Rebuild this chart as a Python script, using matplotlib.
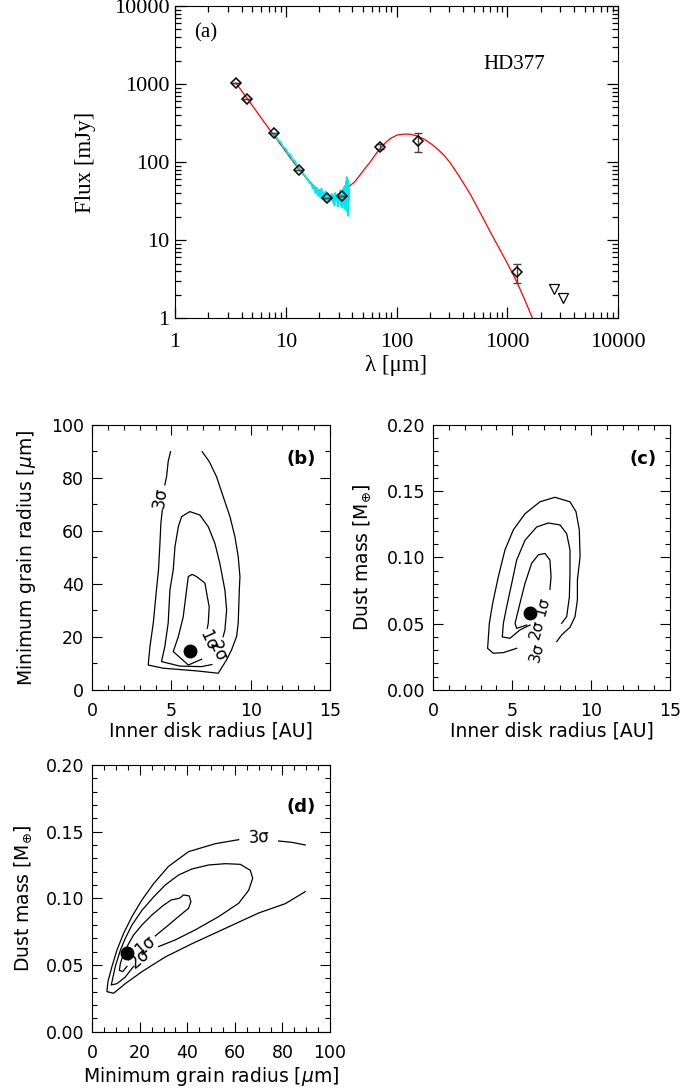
import matplotlib.pyplot as plt
from matplotlib.ticker import MultipleLocator, LogLocator, NullFormatter, FormatStrFormatter

plt.rcParams['font.family'] = ['DejaVu Sans']
plt.rcParams['mathtext.fontset'] = 'dejavusans'

## SED data (panel a)
phot_lam  = [3.55, 4.49, 7.9, 13.1, 23.7, 32.0, 71.5, 157.0, 1220.0]
phot_flux = [1020., 645., 235., 80., 35., 36.5, 158., 188., 3.9]
phot_lo   = [1020., 645., 235., 80., 35., 36.5, 147., 133., 2.78]
phot_hi   = [1020., 645., 235., 80., 35., 36.5, 170., 235., 4.93]
ulim_lam  = [2620., 3160.]
ulim_flux = [2.33, 1.82]

model_lam  = [3.54, 4.5, 6.5, 8.0, 10.0, 13.0, 16.0, 20.0, 24.0, 28.0, 32.0, 37.0,
              42.0, 46.0, 52.0, 58.2, 62.4, 66.8, 71.6, 79.5, 88.3, 101.4, 116.5,
              134., 154., 177., 203., 233., 268., 308., 354., 407., 468., 537.,
              617., 709., 815., 936., 1076., 1236., 1420., 1690., 2000.]
model_flux = [1030., 650., 313., 210., 136., 82., 58., 42., 37., 35.5, 38., 48.,
              56., 66., 83., 101., 117., 133., 150., 177., 201., 222., 228.,
              227., 215., 197., 173., 148., 123., 96., 71.6, 52.2, 37.7, 26.2,
              18.1, 12.4, 8.63, 6.0, 4.13, 2.78, 1.79, 0.99, 0.55]

irs_lam  = [7.6, 8.0, 8.5, 9.0, 9.5, 10.0, 10.5, 11.0, 11.5, 12.0, 12.5, 13.0, 13.5,
            14.0, 14.5, 15.0, 15.5, 16.0, 16.5, 17.0, 17.5, 18.0, 18.5, 19.0, 19.5,
            20.0, 20.5, 21.0, 21.5, 22.0, 22.5, 23.0, 23.5, 24.0, 24.5, 25.0, 25.5,
            26.0, 26.5, 27.0, 27.5, 28.0, 28.5, 29.0, 29.5, 30.0, 30.5, 31.0, 31.5,
            32.0, 32.5, 33.0, 33.5, 34.0, 34.5, 35.0, 35.3, 35.6, 36.0, 36.3, 36.6,
            37.0, 37.3]
irs_flux = [236, 224, 192, 180, 155, 147, 128, 124, 107, 104, 92, 88, 78,
            77, 68, 67, 60, 59, 53, 54, 46, 49, 40, 47, 37,
            44, 35, 46, 34, 41, 33, 42, 32, 39, 31, 37, 33,
            39, 31, 37, 28, 40, 33, 38, 27, 39, 31, 43, 28,
            38, 26, 45, 29, 49, 25, 56, 28, 64, 23, 59, 20.5,
            46, 33]

## Contours panel b (inner radius [AU] vs min grain radius [um])
b_best = (6.15, 14.6)
b3a_x = [4.94, 4.79, 4.69, 4.58]
b3a_y = [89.9, 86.2, 80.5, 77.4]
b3b_x = [4.42, 4.33, 4.27, 4.18, 4.05, 3.85, 3.64, 3.53, 4.48, 6.58, 7.95, 8.48,
         8.79, 9.11, 9.21, 9.28, 9.32, 9.21, 9.00, 8.69, 8.26, 7.84, 7.38, 6.94]
b3b_y = [67.9, 62.9, 55.3, 45.3, 37.7, 25.2, 16.4, 9.4, 8.2, 7.2, 6.3, 11.4,
         15.1, 20.2, 25.2, 37.7, 42.8, 50.3, 57.9, 65.4, 73.0, 80.5, 86.2, 89.9]
b2_x = [7.55, 6.90, 5.53, 4.37, 4.58, 4.79, 4.90, 5.11, 5.22, 5.43, 5.64, 6.16,
        6.79, 7.32, 7.74, 8.05, 8.37, 8.48, 8.37, 8.26]
b2_y = [9.6, 8.8, 9.0, 10.7, 16.4, 25.2, 37.7, 45.3, 54.1, 61.6, 65.4, 67.3,
        66.0, 61.6, 55.3, 47.8, 37.7, 30.2, 22.6, 20.1]
b1_x = [6.90, 6.06, 5.11, 5.43, 5.74, 5.95, 6.06, 6.30, 6.58, 7.11, 7.26, 7.38, 7.32, 7.26]
b1_y = [11.6, 9.4, 14.5, 20.1, 27.6, 37.7, 42.8, 43.6, 42.8, 40.3, 35.2, 31.4, 25.2, 23.3]

## Contours panel c (inner radius [AU] vs dust mass)
c_best = (6.13, 0.0579)
c3_x = [7.82, 8.13, 8.66, 8.98, 9.13, 9.13, 9.30, 9.25, 9.04, 8.66, 7.71, 6.76, 5.81,
        5.07, 4.54, 4.12, 3.76, 3.55, 3.44, 3.80, 4.44, 5.28]
c3_y = [0.0365, 0.0415, 0.0473, 0.0553, 0.068, 0.083, 0.1006, 0.1208, 0.1346, 0.142,
        0.1454, 0.142, 0.133, 0.1208, 0.1057, 0.0855, 0.0654, 0.0503, 0.0314, 0.0277,
        0.0282, 0.0314]
c2_x = [6.13, 5.49, 4.86, 4.37, 4.44, 4.65, 4.97, 5.28, 5.81, 6.55, 7.29, 8.03, 8.45,
        8.66, 8.66, 8.62, 8.45, 8.13]
c2_y = [0.049, 0.0453, 0.039, 0.040, 0.0503, 0.0629, 0.0805, 0.098, 0.113, 0.123, 0.126,
        0.1245, 0.118, 0.1057, 0.088, 0.070, 0.0553, 0.0503]
c1_x = [5.92, 5.28, 5.18, 5.49, 5.81, 6.23, 6.66, 7.08, 7.39, 7.46, 7.39]
c1_y = [0.049, 0.0465, 0.0503, 0.0654, 0.0805, 0.0956, 0.102, 0.103, 0.098, 0.0855, 0.076]

## Contours panel d (min grain radius [um] vs dust mass)
d_best = (14.6, 0.0588)
d3a_x = [61.6, 51.8, 40.5, 32.1, 25.8, 20.9, 16.7, 13.2, 10.4, 8.27, 6.59, 6.17,
         8.98, 13.9, 20.9, 30.7, 42.0, 56.0, 70.0, 81.2, 89.6]
d3a_y = [0.144, 0.141, 0.135, 0.124, 0.111, 0.0988, 0.0863, 0.0738, 0.0613, 0.0488,
         0.0375, 0.030, 0.0288, 0.036, 0.045, 0.056, 0.066, 0.0775, 0.089, 0.096, 0.105]
d3b_x = [78.4, 84.0, 89.6]
d3b_y = [0.143, 0.142, 0.140]
d2_x = [27.9, 34.9, 43.3, 53.2, 61.6, 65.8, 67.5, 66.5, 62.3, 56.0, 48.9, 41.9, 36.3,
        30.7, 25.8, 20.9, 16.7, 13.9, 11.8, 9.7, 8.0, 10.4, 13.9, 17.4]
d2_y = [0.0638, 0.0688, 0.0763, 0.0863, 0.0963, 0.106, 0.115, 0.121, 0.1255, 0.126,
        0.125, 0.122, 0.1175, 0.110, 0.101, 0.091, 0.080, 0.070, 0.061, 0.049, 0.035,
        0.036, 0.041, 0.049]
d1_x = [26.5, 32.1, 36.6, 40.5, 41.5, 40.8, 38.4, 36.6, 33.2, 29.6, 25.1, 20.9, 17.4,
        15.3, 13.2, 11.8, 11.4, 12.8, 14.6]
d1_y = [0.0718, 0.080, 0.0868, 0.0925, 0.0975, 0.1018, 0.1025, 0.100, 0.0988, 0.0943,
        0.0875, 0.080, 0.0725, 0.066, 0.0588, 0.051, 0.046, 0.045, 0.049]

SERIF = 'Liberation Serif'

fig = plt.figure(figsize=(6.81, 10.91), dpi=100, facecolor='white')

# ---------------- panel (a): SED
ax = fig.add_axes([0.257, 0.7085, 0.6505, 0.286])
ax.set_xscale('log')
ax.set_yscale('log')
ax.plot(model_lam, model_flux, color='red', lw=0.9, zorder=2)
ax.plot(irs_lam, irs_flux, color='#00e8f0', lw=1.4, zorder=3)
yerr = [[f - lo for f, lo in zip(phot_flux, phot_lo)],
        [hi - f for f, hi in zip(phot_flux, phot_hi)]]
ax.errorbar(phot_lam, phot_flux, yerr=yerr, fmt='none', ecolor='#444444',
            elinewidth=1.0, capsize=3, capthick=1.0, zorder=4)
ax.plot(phot_lam, phot_flux, 'D', ms=5, mfc='none', mec='black', mew=1.1, zorder=5)
ax.plot(ulim_lam, ulim_flux, 'v', ms=7, mfc='none', mec='black', mew=0.9, zorder=5)
ax.set_xlim(1, 1e4)
ax.set_ylim(1, 1e4)
decades = [1, 10, 100, 1000, 10000]
ax.set_xticks(decades)
ax.set_yticks(decades)
ax.set_xticklabels([str(d) for d in decades])
ax.set_yticklabels([str(d) for d in decades])
for axis in (ax.xaxis, ax.yaxis):
    axis.set_minor_locator(LogLocator(base=10, subs=range(2, 10), numticks=20))
    axis.set_minor_formatter(NullFormatter())
ax.tick_params(which='both', direction='in', top=True, right=True, width=0.9)
ax.tick_params(which='major', length=8, labelsize=16)
ax.tick_params(axis='x', which='major', pad=11)
ax.tick_params(axis='y', which='major', pad=4)
ax.tick_params(which='minor', length=4)
plt.setp(ax.get_xticklabels() + ax.get_yticklabels(), family=SERIF)
ax.set_xlabel('λ [μm]', family=SERIF, fontsize=16.5, labelpad=2)
ax.set_ylabel('Flux [mJy]', family=SERIF, fontsize=16.5, labelpad=13)
ax.text(0.07, 0.913, '(a)', transform=ax.transAxes, family=SERIF, fontsize=15,
        ha='center', va='center')
ax.text(0.765, 0.814, 'HD377', transform=ax.transAxes, family=SERIF, fontsize=15,
        ha='center', va='center')


def style_panel(ax, xmaj, xmin, ymaj, ymin, yfmt):
    ax.xaxis.set_major_locator(MultipleLocator(xmaj))
    ax.xaxis.set_minor_locator(MultipleLocator(xmin))
    ax.yaxis.set_major_locator(MultipleLocator(ymaj))
    ax.yaxis.set_minor_locator(MultipleLocator(ymin))
    ax.yaxis.set_major_formatter(FormatStrFormatter(yfmt))
    ax.tick_params(which='both', direction='in', top=True, right=True, width=0.8)
    ax.tick_params(which='major', length=7, labelsize=12.5)
    ax.tick_params(axis='x', which='major', pad=9)
    ax.tick_params(axis='y', which='major', pad=6)
    ax.tick_params(which='minor', length=3.5)


def contour_line(ax, xs, ys):
    ax.plot(xs, ys, color='black', lw=0.9)


LABEL_SIZE = 13.5

# ---------------- panel (b)
axb = fig.add_axes([0.1355, 0.3676, 0.349, 0.2429])
for xs, ys in [(b3a_x, b3a_y), (b3b_x, b3b_y), (b2_x, b2_y), (b1_x, b1_y)]:
    contour_line(axb, xs, ys)
axb.plot(*b_best, 'o', color='black', ms=9)
axb.text(4.3, 72.5, '3σ', rotation=82, fontsize=12, ha='center', va='center')
axb.text(7.3, 18.8, '1σ', rotation=-65, fontsize=12, ha='center', va='center')
axb.text(7.9, 14.6, '2σ', rotation=-65, fontsize=12, ha='center', va='center')
axb.set_xlim(0, 15)
axb.set_ylim(0, 100)
style_panel(axb, 5, 1, 20, 10, '%d')
axb.set_xlabel('Inner disk radius [AU]', fontsize=LABEL_SIZE, labelpad=1)
axb.set_ylabel(r'Minimum grain radius [$\mu$m]', fontsize=LABEL_SIZE, labelpad=9)
axb.text(0.878, 0.872, '(b)', transform=axb.transAxes, fontsize=13,
         fontweight='bold', ha='center', va='center')

# ---------------- panel (c)
axc = fig.add_axes([0.6363, 0.3676, 0.3476, 0.2429])
for xs, ys in [(c3_x, c3_y), (c2_x, c2_y), (c1_x, c1_y)]:
    contour_line(axc, xs, ys)
axc.plot(*c_best, 'o', color='black', ms=9)
axc.text(6.9, 0.063, '1σ', rotation=75, fontsize=11, ha='center', va='center')
axc.text(6.55, 0.046, '2σ', rotation=75, fontsize=11, ha='center', va='center')
axc.text(6.55, 0.028, '3σ', rotation=75, fontsize=11, ha='center', va='center')
axc.set_xlim(0, 15)
axc.set_ylim(0, 0.2)
style_panel(axc, 5, 1, 0.05, 0.01, '%.2f')
axc.set_xlabel('Inner disk radius [AU]', fontsize=LABEL_SIZE, labelpad=1)
axc.set_ylabel(r'Dust mass [M$_{\oplus}$]', fontsize=LABEL_SIZE, labelpad=10)
axc.text(0.888, 0.872, '(c)', transform=axc.transAxes, fontsize=13,
         fontweight='bold', ha='center', va='center')

# ---------------- panel (d)
axd = fig.add_axes([0.1355, 0.0544, 0.349, 0.2444])
for xs, ys in [(d3a_x, d3a_y), (d3b_x, d3b_y), (d2_x, d2_y), (d1_x, d1_y)]:
    contour_line(axd, xs, ys)
axd.plot(*d_best, 'o', color='black', ms=9)
axd.text(70.0, 0.146, '3σ', rotation=3, fontsize=12, ha='center', va='center')
axd.text(22.3, 0.065, '1σ', rotation=40, fontsize=12, ha='center', va='center')
axd.text(20.0, 0.055, '2σ', rotation=40, fontsize=12, ha='center', va='center')
axd.set_xlim(0, 100)
axd.set_ylim(0, 0.2)
style_panel(axd, 20, 5, 0.05, 0.01, '%.2f')
axd.set_xlabel(r'Minimum grain radius [$\mu$m]', fontsize=LABEL_SIZE, labelpad=2)
axd.set_ylabel(r'Dust mass [M$_{\oplus}$]', fontsize=LABEL_SIZE, labelpad=8)
axd.text(0.878, 0.8425, '(d)', transform=axd.transAxes, fontsize=13,
         fontweight='bold', ha='center', va='center')

plt.savefig('out.png', dpi=100)
